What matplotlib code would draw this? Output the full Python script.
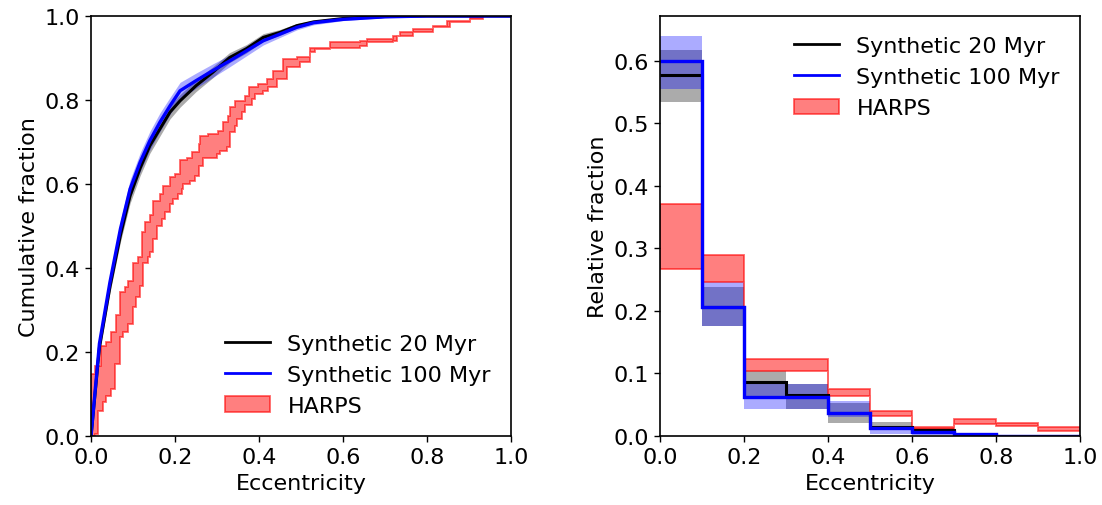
import numpy as np
import matplotlib
matplotlib.use('Agg')
import matplotlib.pyplot as plt
from matplotlib.lines import Line2D
from matplotlib.patches import Patch

# ---- cumulative distributions (left) ----
ecc_syn = [0.0, 0.02, 0.045, 0.07, 0.093, 0.117, 0.14, 0.164, 0.188, 0.212, 0.25, 0.29,
           0.33, 0.37, 0.41, 0.45, 0.49, 0.53, 0.6, 0.7, 0.8, 0.9, 1.0]
cdf_20 = [0.0, 0.21, 0.355, 0.478, 0.572, 0.638, 0.691, 0.731, 0.771, 0.798, 0.834, 0.866,
          0.901, 0.922, 0.949, 0.961, 0.977, 0.986, 0.994, 0.999, 1.0, 1.0, 1.0]
err_20 = [0.0, 0.01, 0.014, 0.016, 0.018, 0.018, 0.018, 0.017, 0.016, 0.015, 0.014, 0.013,
          0.012, 0.010, 0.009, 0.007, 0.005, 0.004, 0.003, 0.001, 0.0, 0.0, 0.0]
cdf_100 = [0.0, 0.22, 0.366, 0.493, 0.588, 0.652, 0.703, 0.747, 0.786, 0.822, 0.846, 0.870,
           0.893, 0.917, 0.941, 0.957, 0.973, 0.984, 0.992, 0.998, 1.0, 1.0, 1.0]
err_100 = [0.0, 0.01, 0.015, 0.02, 0.022, 0.022, 0.022, 0.022, 0.02, 0.02, 0.018, 0.016,
           0.014, 0.012, 0.010, 0.008, 0.006, 0.005, 0.003, 0.002, 0.0, 0.0, 0.0]

# HARPS band: upper and lower empirical CDFs
harps_x_hi = [0.0, 0.0087, 0.0246, 0.0365, 0.048, 0.060, 0.068, 0.080, 0.088, 0.100,
              0.112, 0.121, 0.129, 0.140, 0.148, 0.164, 0.172, 0.188, 0.200, 0.212,
              0.228, 0.240, 0.256, 0.260, 0.279, 0.303, 0.315, 0.327, 0.331, 0.343,
              0.367, 0.375, 0.398, 0.418, 0.434, 0.458, 0.490, 0.521, 0.569, 0.640,
              0.656, 0.720, 0.736, 0.767, 0.815, 0.847, 0.902, 0.934, 1.0]
harps_y_hi = [0.148, 0.167, 0.215, 0.223, 0.247, 0.287, 0.342, 0.354, 0.370, 0.413,
              0.425, 0.485, 0.509, 0.525, 0.560, 0.576, 0.596, 0.616, 0.624, 0.656,
              0.663, 0.675, 0.695, 0.715, 0.719, 0.727, 0.747, 0.763, 0.783, 0.798,
              0.810, 0.830, 0.838, 0.850, 0.870, 0.898, 0.902, 0.925, 0.937, 0.941,
              0.945, 0.953, 0.961, 0.969, 0.977, 0.989, 0.997, 1.0, 1.0]
harps_x_lo = [0.0, 0.0087, 0.0167, 0.0286, 0.0365, 0.048, 0.056, 0.068, 0.076, 0.088,
              0.100, 0.108, 0.116, 0.124, 0.136, 0.140, 0.148, 0.156, 0.168, 0.176,
              0.188, 0.196, 0.208, 0.216, 0.220, 0.236, 0.248, 0.256, 0.267, 0.299,
              0.307, 0.323, 0.331, 0.343, 0.347, 0.359, 0.367, 0.383, 0.390, 0.410,
              0.422, 0.442, 0.466, 0.498, 0.521, 0.533, 0.569, 0.640, 0.656, 0.720,
              0.728, 0.767, 0.815, 0.855, 0.902, 0.934, 1.0]
harps_y_lo = [0.0, 0.005, 0.060, 0.080, 0.096, 0.112, 0.171, 0.235, 0.247, 0.267,
              0.306, 0.330, 0.358, 0.413, 0.425, 0.437, 0.470, 0.501, 0.517, 0.533,
              0.552, 0.564, 0.576, 0.588, 0.600, 0.608, 0.620, 0.644, 0.663, 0.671,
              0.679, 0.687, 0.723, 0.739, 0.755, 0.771, 0.787, 0.802, 0.814, 0.822,
              0.830, 0.850, 0.878, 0.890, 0.914, 0.921, 0.925, 0.929, 0.937, 0.941,
              0.953, 0.961, 0.973, 0.985, 0.993, 1.0, 1.0]

# ---- histograms (right) ----
bin_edges = [0.0, 0.1, 0.2, 0.3, 0.4, 0.5, 0.6, 0.7, 0.8, 0.9, 1.0]
hist_20 = [0.578, 0.206, 0.087, 0.065, 0.036, 0.015, 0.010, 0.002, 0.0, 0.0]
hist_20_lo = [0.534, 0.1765, 0.062, 0.043, 0.021, 0.011, 0.004, 0.0, 0.0, 0.0]
hist_20_hi = [0.618, 0.238, 0.1045, 0.083, 0.053, 0.023, 0.012, 0.003, 0.0, 0.0]
hist_100 = [0.600, 0.206, 0.063, 0.063, 0.037, 0.012, 0.006, 0.003, 0.0, 0.0]
hist_100_lo = [0.555, 0.1765, 0.043, 0.043, 0.030, 0.003, 0.002, 0.0, 0.0, 0.0]
hist_100_hi = [0.640, 0.246, 0.086, 0.083, 0.0565, 0.0165, 0.010, 0.003, 0.0, 0.0]
harps_hist_lo = [0.267, 0.246, 0.1045, 0.1045, 0.0635, 0.0325, 0.011, 0.019, 0.0155, 0.0085]
harps_hist_hi = [0.371, 0.289, 0.123, 0.123, 0.075, 0.0405, 0.015, 0.027, 0.021, 0.014]


def post_steps(x, y):
    x = np.asarray(x)
    y = np.asarray(y)
    return np.repeat(x, 2)[1:], np.repeat(y, 2)[:-1]


plt.rcParams['font.family'] = 'DejaVu Sans'
plt.rcParams['font.size'] = 16

fig = plt.figure(figsize=(11.02, 5.06), dpi=100)
ax1 = fig.add_axes([0.0826, 0.1364, 0.3811, 0.8300])
ax2 = fig.add_axes([0.5989, 0.1364, 0.3811, 0.8300])

red_face = (1, 0, 0, 0.5)
red_edge = (1, 0, 0, 0.6)

# left: cumulative fraction
ax1.fill_between(ecc_syn, np.subtract(cdf_20, err_20), np.add(cdf_20, err_20),
                 color='k', alpha=0.33, lw=0)
ax1.fill_between(ecc_syn, np.subtract(cdf_100, err_100), np.add(cdf_100, err_100),
                 color='b', alpha=0.33, lw=0)
ux, uy = post_steps(harps_x_hi, harps_y_hi)
lx, ly = post_steps(harps_x_lo, harps_y_lo)
poly_x = np.concatenate([[0.0], ux, lx[::-1]])
poly_y = np.concatenate([[0.0], uy, ly[::-1]])
ax1.fill(poly_x, poly_y, facecolor=red_face, edgecolor=red_edge, lw=1.3)
ax1.plot(ecc_syn, cdf_20, color='k', lw=2.2)
ax1.plot(ecc_syn, cdf_100, color='b', lw=2.4)

ax1.set_xlim(0, 1)
ax1.set_ylim(0, 1)
ax1.set_xticks(np.arange(0, 1.01, 0.2))
ax1.set_yticks(np.arange(0, 1.01, 0.2))
ax1.set_xlabel('Eccentricity')
ax1.set_ylabel('Cumulative fraction')

# right: relative fraction per bin
ax2.stairs(hist_20_hi, bin_edges, baseline=hist_20_lo, fill=True, color='k', alpha=0.33, lw=0)
ax2.stairs(hist_100_hi, bin_edges, baseline=hist_100_lo, fill=True, color='b', alpha=0.33, lw=0)
ax2.stairs(harps_hist_hi, bin_edges, baseline=harps_hist_lo, fill=True,
           facecolor=red_face, edgecolor=red_edge, lw=1.3)
ax2.stairs(hist_20, bin_edges, baseline=None, color='k', lw=2.2)
ax2.stairs(hist_100, bin_edges, baseline=None, color='b', lw=2.4)

ax2.set_xlim(0, 1)
ax2.set_ylim(0, 0.672)
ax2.set_xticks(np.arange(0, 1.01, 0.2))
ax2.set_yticks(np.arange(0, 0.61, 0.1))
ax2.set_xlabel('Eccentricity')
ax2.set_ylabel('Relative fraction')

handles = [Line2D([], [], color='k', lw=2),
           Line2D([], [], color='b', lw=2),
           Patch(facecolor=red_face, edgecolor=red_edge, lw=1.3)]
labels = ['Synthetic 20 Myr', 'Synthetic 100 Myr', 'HARPS']
ax1.legend(handles, labels, loc='lower right', frameon=False, fontsize=16)
ax2.legend(handles, labels, loc='upper right', frameon=False, fontsize=16)

for ax in (ax1, ax2):
    ax.tick_params(direction='out', length=4.5, width=1, labelsize=16)
    for s in ax.spines.values():
        s.set_linewidth(1.2)

fig.savefig('out.png', dpi=100)
